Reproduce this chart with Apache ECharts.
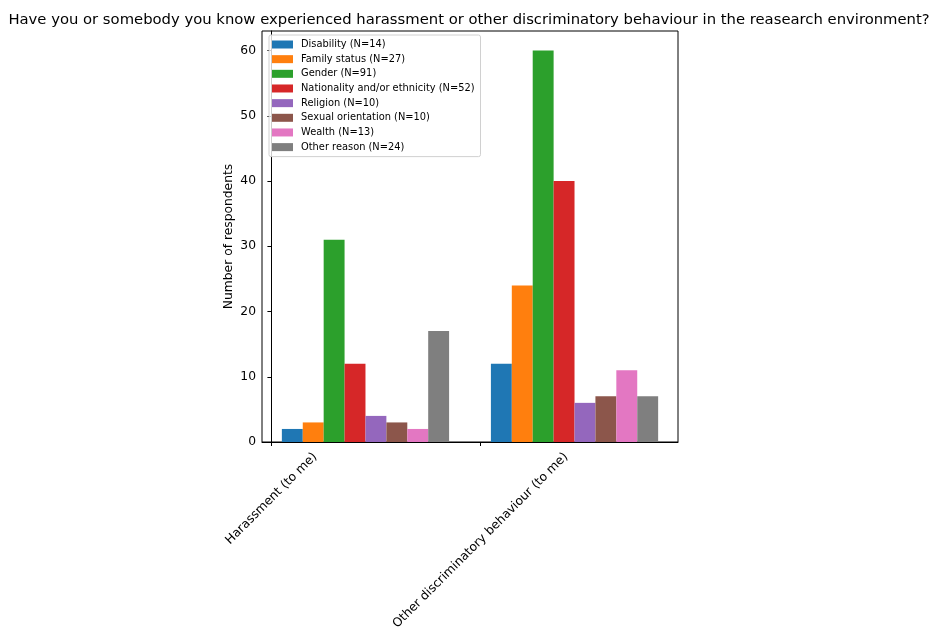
<!DOCTYPE html>
<html>
<head>
<meta charset="utf-8">
<script src="https://cdn.jsdelivr.net/npm/echarts@6/dist/echarts.min.js"></script>
<style>
html,body{margin:0;padding:0;background:#fff;}
#chart{width:938px;height:630px;}
</style>
</head>
<body>
<div id="chart"></div>
<script>
const categories = ["Harassment (to me)", "Other discriminatory behaviour (to me)"];
const seriesNames = ["Disability (N=14)", "Family status (N=27)", "Gender (N=91)", "Nationality and/or ethnicity (N=52)", "Religion (N=10)", "Sexual orientation (N=10)", "Wealth (N=13)", "Other reason (N=24)"];
const disability = [2, 12];
const familyStatus = [3, 24];
const gender = [31, 60];
const nationality = [12, 40];
const religion = [4, 6];
const sexualOrientation = [3, 7];
const wealth = [2, 11];
const otherReason = [17, 7];
const yTicks = [0, 10, 20, 30, 40, 50, 60];

const values = [disability, familyStatus, gender, nationality, religion, sexualOrientation, wealth, otherReason];
const colors = ['#1f77b4', '#ff7f0e', '#2ca02c', '#d62728', '#9467bd', '#8c564b', '#e377c2', '#7f7f7f'];
const barW = 0.1;
const font = 'DejaVu Sans';
const labelSize = 12.3;

// measure label widths to centre the rotated label box under its tick
const ctx = document.createElement('canvas').getContext('2d');
ctx.font = labelSize + 'px "' + font + '"';
const labelH = 14;
function marginFor(text) {
  const w = ctx.measureText(text).width;
  return 8 + (w + labelH) / (2 * Math.SQRT2);
}

const chart = echarts.init(document.getElementById('chart'), null, {renderer: 'canvas'});

const series = seriesNames.map((name, i) => ({
  name: name,
  type: 'custom',
  color: colors[i],
  itemStyle: {color: colors[i]},
  encode: {x: 0, y: 1},
  data: values[i].map((v, g) => [g, v]),
  renderItem: function (params, api) {
    const g = api.value(0);
    const v = api.value(1);
    const x0 = g + barW * (i + 0.5);
    const p0 = api.coord([x0, v]);
    const p1 = api.coord([x0 + barW, 0]);
    return {
      type: 'rect',
      shape: {x: p0[0], y: p0[1], width: p1[0] - p0[0], height: p1[1] - p0[1]},
      style: {fill: colors[i]}
    };
  }
}));

function xAxisFor(idx, showLine) {
  return {
    type: 'value',
    gridIndex: 0,
    position: 'bottom',
    min: -0.045,
    max: 1.945,
    splitLine: {show: false},
    axisLine: {show: showLine, onZero: false, lineStyle: {color: '#000'}},
    axisTick: {show: showLine, customValues: [0, 1], length: 4, lineStyle: {color: '#000'}},
    axisLabel: {
      customValues: [idx],
      rotate: 45,
      align: 'center',
      verticalAlign: 'middle',
      margin: marginFor(categories[idx]),
      fontFamily: font,
      fontSize: labelSize,
      color: '#000',
      formatter: function (v) { return categories[Math.round(v)]; }
    }
  };
}

chart.setOption({
  animation: false,
  backgroundColor: '#fff',
  textStyle: {fontFamily: font},
  title: {
    text: 'Have you or somebody you know experienced harassment or other discriminatory behaviour in the reasearch environment?',
    left: 'center',
    top: 8,
    textStyle: {fontFamily: font, fontSize: 14.8, fontWeight: 'normal', color: '#000'}
  },
  legend: {
    orient: 'vertical',
    left: 269,
    top: 35,
    padding: [4, 6, 4, 3],
    itemWidth: 21,
    itemHeight: 8,
    itemGap: 3.66,
    icon: 'rect',
    borderColor: '#d0d0d0',
    borderWidth: 1,
    borderRadius: 2,
    backgroundColor: 'rgba(255,255,255,0.8)',
    textStyle: {fontFamily: font, fontSize: 9.85, color: '#000', lineHeight: 11, padding: [0, 0, 0, 3]},
    data: seriesNames
  },
  grid: {
    left: 262, top: 31, width: 416, height: 411,
    outerBoundsMode: 'none',
    containLabel: false,
    show: true, borderColor: '#000', borderWidth: 1, backgroundColor: 'transparent'
  },
  xAxis: [xAxisFor(0, true), xAxisFor(1, false)],
  yAxis: {
    type: 'value',
    min: 0,
    max: 63,
    interval: 10,
    name: 'Number of respondents',
    nameLocation: 'middle',
    nameGap: 27,
    nameTextStyle: {fontFamily: font, fontSize: labelSize, color: '#000'},
    splitLine: {show: false},
    axisLine: {show: true, lineStyle: {color: '#000'}},
    axisTick: {show: true, customValues: yTicks, length: 4, lineStyle: {color: '#000'}},
    axisLabel: {
      customValues: yTicks,
      fontFamily: font, fontSize: labelSize, color: '#000', margin: 6
    }
  },
  series: series
});
</script>
</body>
</html>
